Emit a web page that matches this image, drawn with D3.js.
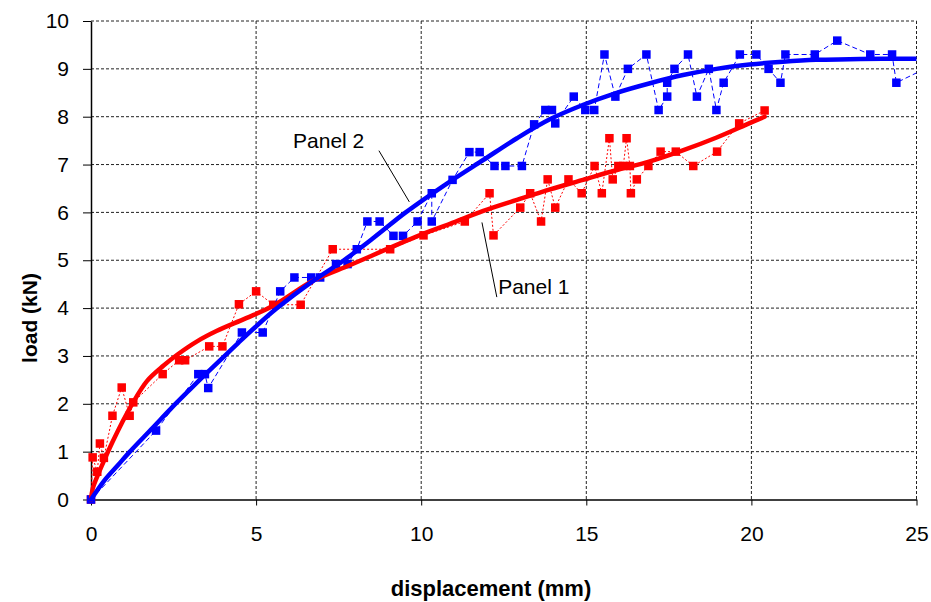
<!DOCTYPE html>
<html>
<head>
<meta charset="utf-8">
<script src="https://d3js.org/d3.v7.min.js"></script>
<style>
  body { margin: 0; background: #fff; }
  svg { font-family: 'Liberation Sans', Arial, sans-serif; }
</style>
</head>
<body>
<svg id="chart"></svg>
<script>
// measured points, Panel 1 (red) and Panel 2 (blue)
const panel1X = [0, 0.05, 0.19, 0.27, 0.39, 0.65, 0.93, 1.17, 1.28, 2.17, 2.67, 2.85, 3.58, 3.98, 4.48, 5.0, 5.52, 6.35, 7.32, 9.06, 10.07, 11.32, 12.07, 12.19, 13.0, 13.3, 13.63, 13.83, 14.06, 14.46, 14.86, 15.25, 15.47, 15.7, 15.8, 15.97, 16.12, 16.22, 16.32, 16.35, 16.53, 16.88, 17.25, 17.71, 18.24, 18.96, 19.63, 20.4];
const panel1Y = [0, 0.88, 0.58, 1.17, 0.87, 1.75, 2.34, 1.75, 2.03, 2.62, 2.91, 2.91, 3.2, 3.2, 4.08, 4.35, 4.07, 4.07, 5.23, 5.23, 5.52, 5.81, 6.4, 5.52, 6.1, 6.4, 5.81, 6.69, 6.1, 6.69, 6.4, 6.97, 6.4, 7.55, 6.69, 6.97, 6.97, 7.55, 6.97, 6.4, 6.69, 6.97, 7.27, 7.27, 6.97, 7.27, 7.86, 8.13];

const panel2X = [0, 1.97, 3.25, 3.45, 3.55, 4.57, 5.2, 5.73, 6.16, 6.67, 6.94, 7.42, 7.77, 8.05, 8.37, 8.74, 9.16, 9.45, 9.89, 10.32, 10.32, 10.95, 11.46, 11.77, 12.22, 12.55, 13.05, 13.42, 13.76, 13.96, 14.06, 14.62, 14.97, 15.24, 15.55, 15.88, 16.26, 16.82, 17.19, 17.45, 17.45, 17.67, 18.08, 18.35, 18.71, 18.94, 19.16, 19.65, 20.15, 20.52, 20.88, 21.03, 21.92, 22.6, 23.6, 24.26, 24.39, 25.4];
const panel2Y = [0, 1.44, 2.62, 2.62, 2.33, 3.49, 3.49, 4.35, 4.64, 4.64, 4.64, 4.92, 4.92, 5.23, 5.81, 5.81, 5.51, 5.51, 5.81, 6.4, 5.81, 6.68, 7.26, 7.26, 6.97, 6.97, 6.97, 7.84, 8.14, 8.14, 7.86, 8.42, 8.14, 8.14, 9.3, 8.42, 9.0, 9.3, 8.14, 8.42, 8.71, 9.0, 9.3, 8.42, 9.0, 8.14, 8.71, 9.3, 9.3, 9.0, 8.71, 9.3, 9.3, 9.59, 9.3, 9.3, 8.71, 9.05];

// trend curves
const fit1X = [0, 0.05, 0.2, 0.4, 0.65, 0.95, 1.25, 1.7, 2.2, 2.6, 3.2, 3.8, 4.7, 5.52, 6.75, 7.85, 8.85, 9.87, 10.87, 11.88, 12.9, 13.9, 14.9, 15.9, 16.9, 17.9, 18.93, 19.93, 20.4];
const fit1Y = [0, 0.22, 0.5, 0.82, 1.2, 1.62, 2.0, 2.48, 2.8, 3.02, 3.3, 3.52, 3.79, 4.05, 4.58, 4.9, 5.2, 5.5, 5.76, 6.03, 6.26, 6.48, 6.68, 6.88, 7.06, 7.29, 7.56, 7.86, 8.0];

const fit2X = [0, 0.42, 0.82, 1.15, 1.87, 2.42, 2.97, 3.47, 3.97, 4.47, 4.97, 5.6, 6.75, 7.66, 8.58, 9.53, 10.88, 11.89, 12.9, 13.91, 14.91, 15.92, 16.93, 17.93, 18.94, 19.94, 20.95, 21.96, 22.97, 23.98, 25];
const fit2Y = [0, 0.41, 0.72, 0.98, 1.5, 1.9, 2.28, 2.62, 2.95, 3.28, 3.6, 3.98, 4.58, 5.0, 5.48, 6.0, 6.65, 7.1, 7.55, 7.95, 8.25, 8.5, 8.7, 8.87, 9.0, 9.09, 9.15, 9.19, 9.2, 9.21, 9.21];

const xTicks = [0, 5, 10, 15, 20, 25];
const yTicks = [0, 1, 2, 3, 4, 5, 6, 7, 8, 9, 10];
const seriesNames = ['Panel 1', 'Panel 2'];
const axisTitles = { x: 'displacement (mm)', y: 'load (kN)' };

const width = 931, height = 602;
const margin = { top: 21, right: 14.5, bottom: 102.5, left: 91 };
const w = width - margin.left - margin.right;
const h = height - margin.top - margin.bottom;

const red = '#FF0000';
const blue = '#0000FF';

const svg = d3.select('#chart')
    .attr('width', width)
    .attr('height', height);

const g = svg.append('g')
    .attr('transform', `translate(${margin.left}, ${margin.top})`);

const xScale = d3.scaleLinear().domain([0, 25]).range([0, w]);
const yScale = d3.scaleLinear().domain([0, 10]).range([h, 0]);

const zip = (xs, ys) => xs.map((x, i) => ({ x: x, y: ys[i] }));
const panel1 = zip(panel1X, panel1Y);
const panel2 = zip(panel2X, panel2Y);
const fit1 = zip(fit1X, fit1Y);
const fit2 = zip(fit2X, fit2Y);

svg.append('defs').append('clipPath')
    .attr('id', 'plot-clip')
    .append('rect')
    .attr('x', -5)
    .attr('y', -5)
    .attr('width', w + 5)
    .attr('height', h + 10);

// gridlines
g.append('g')
    .selectAll('line')
    .data(yTicks.filter((d) => d > 0))
    .enter()
    .append('line')
    .attr('x1', 0)
    .attr('x2', w)
    .attr('y1', (d) => yScale(d))
    .attr('y2', (d) => yScale(d))
    .attr('stroke', '#222')
    .attr('stroke-width', 1)
    .attr('stroke-dasharray', '3,2');

g.append('g')
    .selectAll('line')
    .data(xTicks.filter((d) => d > 0))
    .enter()
    .append('line')
    .attr('x1', (d) => xScale(d))
    .attr('x2', (d) => xScale(d))
    .attr('y1', 0)
    .attr('y2', h)
    .attr('stroke', '#222')
    .attr('stroke-width', 1)
    .attr('stroke-dasharray', '3,2');

// axes
const xAxis = g.append('g')
    .attr('transform', `translate(0, ${h})`)
    .call(d3.axisBottom(xScale).tickValues(xTicks).tickSize(6).tickSizeOuter(0).tickPadding(21));

const yAxis = g.append('g')
    .call(d3.axisLeft(yScale).tickValues(yTicks).tickSize(8).tickSizeOuter(0).tickPadding(14));

[xAxis, yAxis].forEach((a) => {
    a.selectAll('text')
        .style('font-size', '21px')
        .style('fill', '#000');
    a.selectAll('line').attr('stroke', '#000');
    a.select('.domain').attr('stroke', '#000').attr('stroke-width', 1.5);
});

const plot = g.append('g').attr('clip-path', 'url(#plot-clip)');

const line = d3.line()
    .x((d) => xScale(d.x))
    .y((d) => yScale(d.y));

const smooth = d3.line()
    .curve(d3.curveCatmullRom.alpha(0.5))
    .x((d) => xScale(d.x))
    .y((d) => yScale(d.y));

function drawSeries(data, colour, dash) {
    plot.append('path')
        .datum(data)
        .attr('d', line)
        .attr('fill', 'none')
        .attr('stroke', colour)
        .attr('stroke-width', 1)
        .attr('stroke-dasharray', dash);

    plot.append('g')
        .selectAll('rect')
        .data(data)
        .enter()
        .append('rect')
        .attr('x', (d) => xScale(d.x) - 4.25)
        .attr('y', (d) => yScale(d.y) - 4.25)
        .attr('width', 8.5)
        .attr('height', 8.5)
        .attr('fill', colour);
}

drawSeries(panel1, red, '2,2');
drawSeries(panel2, blue, '5,3');

plot.append('path')
    .datum(fit1)
    .attr('d', smooth)
    .attr('fill', 'none')
    .attr('stroke', red)
    .attr('stroke-width', 4.5)
    .attr('stroke-linecap', 'round');

plot.append('path')
    .datum(fit2)
    .attr('d', smooth)
    .attr('fill', 'none')
    .attr('stroke', blue)
    .attr('stroke-width', 4.5)
    .attr('stroke-linecap', 'round');

// series labels with leader lines (data coords)
const labels = [
    { name: seriesNames[1], at: [6.12, 7.35], from: [8.72, 7.29], to: [9.64, 6.22] },
    { name: seriesNames[0], at: [12.33, 4.3], from: [11.84, 5.79], to: [12.29, 4.23] },
];

labels.forEach((l) => {
    g.append('line')
        .attr('x1', xScale(l.from[0]))
        .attr('y1', yScale(l.from[1]))
        .attr('x2', xScale(l.to[0]))
        .attr('y2', yScale(l.to[1]))
        .attr('stroke', '#000')
        .attr('stroke-width', 1);
    g.append('text')
        .attr('x', xScale(l.at[0]))
        .attr('y', yScale(l.at[1]))
        .style('font-size', '21px')
        .text(l.name);
});

// axis titles
svg.append('text')
    .attr('x', 491)
    .attr('y', 596)
    .attr('text-anchor', 'middle')
    .style('font-size', '22px')
    .style('font-weight', 'bold')
    .text(axisTitles.x);

svg.append('text')
    .attr('transform', 'translate(37, 318) rotate(-90)')
    .attr('text-anchor', 'middle')
    .style('font-size', '21px')
    .style('font-weight', 'bold')
    .text(axisTitles.y);
</script>
</body>
</html>
